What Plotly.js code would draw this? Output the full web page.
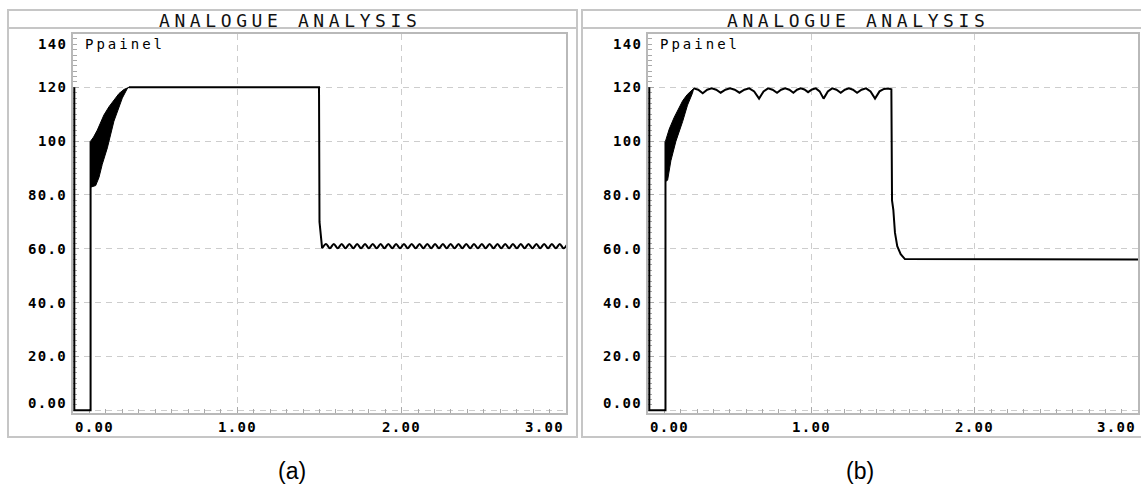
<!DOCTYPE html>
<html><head><meta charset="utf-8">
<script src="https://cdn.plot.ly/plotly-3.0.1.min.js"></script>
<style>html,body{margin:0;padding:0;background:#fff}#chart{width:1141px;height:497px}</style>
</head><body><div id="chart"></div>
<script>
// ---------- data ----------
const xTickVals = [0, 1, 2, 3];
const xTickText = ['0.00', '1.00', '2.00', '3.00'];
const yTickVals = [0, 20, 40, 60, 80, 100, 120, 140];
const yTickText = ['0.00', '20.0', '40.0', '60.0', '80.0', '100', '120', '140'];
const panelTitles = ['ANALOGUE ANALYSIS', 'ANALOGUE ANALYSIS'];
const seriesName = 'Ppainel';
const panelLabels = ['(a)', '(b)'];

// panel (a)
const aStartT = [0.008, 0.008, 0.107, 0.107];
const aStartV = [120, 0, 0, 100];
const aBandUpT = [0.107, 0.125, 0.148, 0.168, 0.188, 0.219, 0.249, 0.28, 0.31, 0.34];
const aBandUpV = [100, 101.5, 104.1, 107.2, 109.7, 112.8, 115.2, 117.7, 119.2, 120];
const aBandLoT = [0.107, 0.138, 0.158, 0.178, 0.209, 0.249, 0.30, 0.33, 0.34];
const aBandLoV = [82.9, 83.5, 86.5, 91.4, 97.5, 107.4, 116, 119.5, 120];
const aMainT = [0.34, 1.497, 1.500, 1.516];
const aMainV = [120, 120, 70, 60.2];
const aRippleT = [1.516,1.540,1.563,1.587,1.611,1.635,1.658,1.682,1.706,1.729,
  1.753,1.777,1.800,1.824,1.848,1.872,1.895,1.919,1.943,1.966,
  1.990,2.014,2.037,2.061,2.085,2.109,2.132,2.156,2.180,2.203,
  2.227,2.251,2.274,2.298,2.322,2.346,2.369,2.393,2.417,2.440,
  2.464,2.488,2.511,2.535,2.559,2.583,2.606,2.630,2.654,2.677,
  2.701,2.725,2.748,2.772,2.796,2.820,2.843,2.867,2.891,2.914,
  2.938,2.962,2.985,3.009];
const aRippleV = [60.2,61.8,60.2,61.8,60.2,61.8,60.2,61.8,60.2,61.8,
  60.2,61.8,60.2,61.8,60.2,61.8,60.2,61.8,60.2,61.8,
  60.2,61.8,60.2,61.8,60.2,61.8,60.2,61.8,60.2,61.8,
  60.2,61.8,60.2,61.8,60.2,61.8,60.2,61.8,60.2,61.8,
  60.2,61.8,60.2,61.8,60.2,61.8,60.2,61.8,60.2,61.8,
  60.2,61.8,60.2,61.8,60.2,61.8,60.2,61.8,60.2,61.8,
  60.2,61.8,60.2,61.8];

// panel (b)
const bStartT = [0.008, 0.008, 0.107, 0.107];
const bStartV = [120, 0, 0, 100];
const bBandUpT = [0.107, 0.13, 0.16, 0.19, 0.212, 0.24, 0.262, 0.28];
const bBandUpV = [100, 104.5, 108.8, 112.5, 115, 117.3, 118.7, 119.6];
const bBandLoT = [0.107, 0.12, 0.14, 0.171, 0.212, 0.242, 0.272, 0.28];
const bBandLoV = [85, 85.5, 92.7, 100, 107.3, 113.4, 117.8, 119.6];
const bMainT = [0.28,0.3075,0.335,0.3625,0.39,0.4175,0.445,0.474,0.5025,0.531,0.56,
  0.59,0.62,0.65,0.68,0.7075,0.735,0.7625,0.79,0.815,0.84,0.865,0.89,
  0.9125,0.935,0.9575,0.98,1.004,1.0275,1.051,1.075,1.101,1.1275,1.154,1.18,
  1.205,1.23,1.255,1.28,1.3075,1.335,1.3625,1.39,1.4175,1.445,1.47,1.49,
  1.494,1.502,1.512,1.526,1.547,1.573,3.0];
const bMainV = [119.6,119.1,117.8,119.1,119.6,119.1,118.0,119.1,119.6,119.1,118.0,
  119.1,119.6,118.5,115.8,118.5,119.6,119.1,118.0,119.1,119.6,119.1,118.0,
  119.1,119.6,119.2,118.2,119.2,119.6,118.5,115.8,118.5,119.6,119.1,118.0,
  119.1,119.6,119.1,118.0,119.1,119.6,118.5,115.8,118.5,119.4,119.6,119.3,
  78,74.5,66,61,58,56.2,56.0];

// ---------- layout geometry (pixels) ----------
const W = 1141, H = 497;
const TOP = 33.5, BOT = 413;
const panels = [
  {L: 73, R: 566, fL: 8, fR: 577, xa: 'x', ya: 'y', lab: 292},
  {L: 648, R: 1138, fL: 582, fR: 1142, xa: 'x2', ya: 'y2', lab: 860}
];
const FTOP = 10, FTITLE = 28, FBOT = 437;
const fx = p => p / W;
const fy = p => 1 - p / H;

const MONO = 'DejaVu Sans Mono, Liberation Mono, monospace';
const GRID = '#cdcdcd', AX = '#b9b9b9', TK = '#a9a9a9', FR = '#c6c6c6';

function band(upT, upV, loT, loV, xa, ya) {
  return {x: upT.concat(loT.slice().reverse()), y: upV.concat(loV.slice().reverse()),
    xaxis: xa, yaxis: ya, mode: 'lines', fill: 'toself', fillcolor: '#000',
    line: {color: '#000', width: 1}, hoverinfo: 'skip'};
}
function line(t, v, xa, ya, shape) {
  return {x: t, y: v, xaxis: xa, yaxis: ya, mode: 'lines',
    line: {color: '#000', width: 2, shape: shape || 'linear'}, hoverinfo: 'skip'};
}

const traces = [
  line(aStartT, aStartV, 'x', 'y'),
  band(aBandUpT, aBandUpV, aBandLoT, aBandLoV, 'x', 'y'),
  line(aMainT, aMainV, 'x', 'y'),
  line(aRippleT, aRippleV, 'x', 'y', 'spline'),
  line(bStartT, bStartV, 'x2', 'y2'),
  band(bBandUpT, bBandUpV, bBandLoT, bBandLoV, 'x2', 'y2'),
  line(bMainT, bMainV, 'x2', 'y2')
];

function xAxis(p) {
  return {domain: [fx(p.L), fx(p.R)], range: [0, 3], anchor: p.ya, tick0: 0, dtick: 1,
    showgrid: true, gridcolor: GRID, gridwidth: 1, griddash: '6px,5px',
    ticks: 'inside', ticklen: 6, tickcolor: TK, showticklabels: false,
    showline: true, linecolor: AX, linewidth: 2, mirror: true, zeroline: false,
    layer: 'below traces', fixedrange: true,
    minor: {dtick: 0.1, tick0: 0, ticks: 'inside', ticklen: 4, tickcolor: TK, tickwidth: 1, showgrid: false}};
}
function yAxis(p) {
  return {domain: [fy(BOT), fy(TOP)], range: [-1, 140], anchor: p.xa, tick0: 0, dtick: 20,
    showgrid: true, gridcolor: GRID, gridwidth: 1, griddash: '6px,5px',
    ticks: 'inside', ticklen: 6, tickcolor: TK, showticklabels: false,
    showline: true, linecolor: AX, linewidth: 2, mirror: true, zeroline: false,
    layer: 'below traces', fixedrange: true,
    minor: {dtick: 2, tick0: 0, ticks: 'inside', ticklen: 4, tickcolor: TK, tickwidth: 1, showgrid: false}};
}

const annotations = [];
const shapes = [];
panels.forEach((p, i) => {
  shapes.push({type: 'rect', xref: 'paper', yref: 'paper', x0: fx(p.fL), x1: fx(p.fR), y0: fy(FBOT), y1: fy(FTOP),
    line: {color: FR, width: 2}});
  shapes.push({type: 'line', xref: 'paper', yref: 'paper', x0: fx(p.fL), x1: fx(p.fR), y0: fy(FTITLE), y1: fy(FTITLE),
    line: {color: FR, width: 2}});
  annotations.push({xref: 'paper', yref: 'paper', x: fx((p.fL + Math.min(p.fR, 1140)) / 2 - 3), y: fy(20.5),
    xanchor: 'center', yanchor: 'middle', showarrow: false,
    text: '<span style="letter-spacing:4.6px">' + panelTitles[i] + '</span>',
    font: {family: MONO, size: 18, color: '#111'}});
  annotations.push({xref: 'paper', yref: 'paper', x: fx(p.L + 9.5), y: fy(44.3),
    xanchor: 'left', yanchor: 'middle', showarrow: false,
    text: '<span style="letter-spacing:3px">' + seriesName + '</span>',
    font: {family: MONO, size: 14, color: '#000'}});
  yTickVals.forEach((v, k) => {
    const shift = k === yTickVals.length - 1 ? -10.5 : (k === 0 ? 7.5 : 0);
    annotations.push({xref: 'paper', yref: p.ya, x: fx(p.L - 4), y: v, xanchor: 'right', yanchor: 'middle',
      yshift: shift, showarrow: false,
      text: '<span style="letter-spacing:1.3px">' + yTickText[k] + '</span>',
      font: {family: MONO, size: 14, color: '#000', weight: 'bold'}});
  });
  xTickVals.forEach((t, k) => {
    const anc = k === 0 ? 'left' : (k === xTickVals.length - 1 ? 'right' : 'center');
    annotations.push({xref: p.xa, yref: 'paper', x: t, y: fy(BOT), xanchor: anc, yanchor: 'top',
      yshift: -4, showarrow: false,
      text: '<span style="letter-spacing:1.3px">' + xTickText[k] + '</span>',
      font: {family: MONO, size: 14, color: '#000', weight: 'bold'}});
  });
  annotations.push({xref: 'paper', yref: 'paper', x: fx(p.lab), y: fy(471), xanchor: 'center', yanchor: 'middle',
    showarrow: false, text: panelLabels[i],
    font: {family: 'Liberation Sans, Arial, sans-serif', size: 23, color: '#000'}});
});

const layout = {
  width: W, height: H, margin: {l: 0, r: 0, t: 0, b: 0},
  paper_bgcolor: '#fff', plot_bgcolor: '#fff', showlegend: false,
  xaxis: xAxis(panels[0]), yaxis: yAxis(panels[0]),
  xaxis2: xAxis(panels[1]), yaxis2: yAxis(panels[1]),
  shapes: shapes, annotations: annotations
};

Plotly.newPlot('chart', traces, layout, {displayModeBar: false, staticPlot: true});
</script>
</body></html>
